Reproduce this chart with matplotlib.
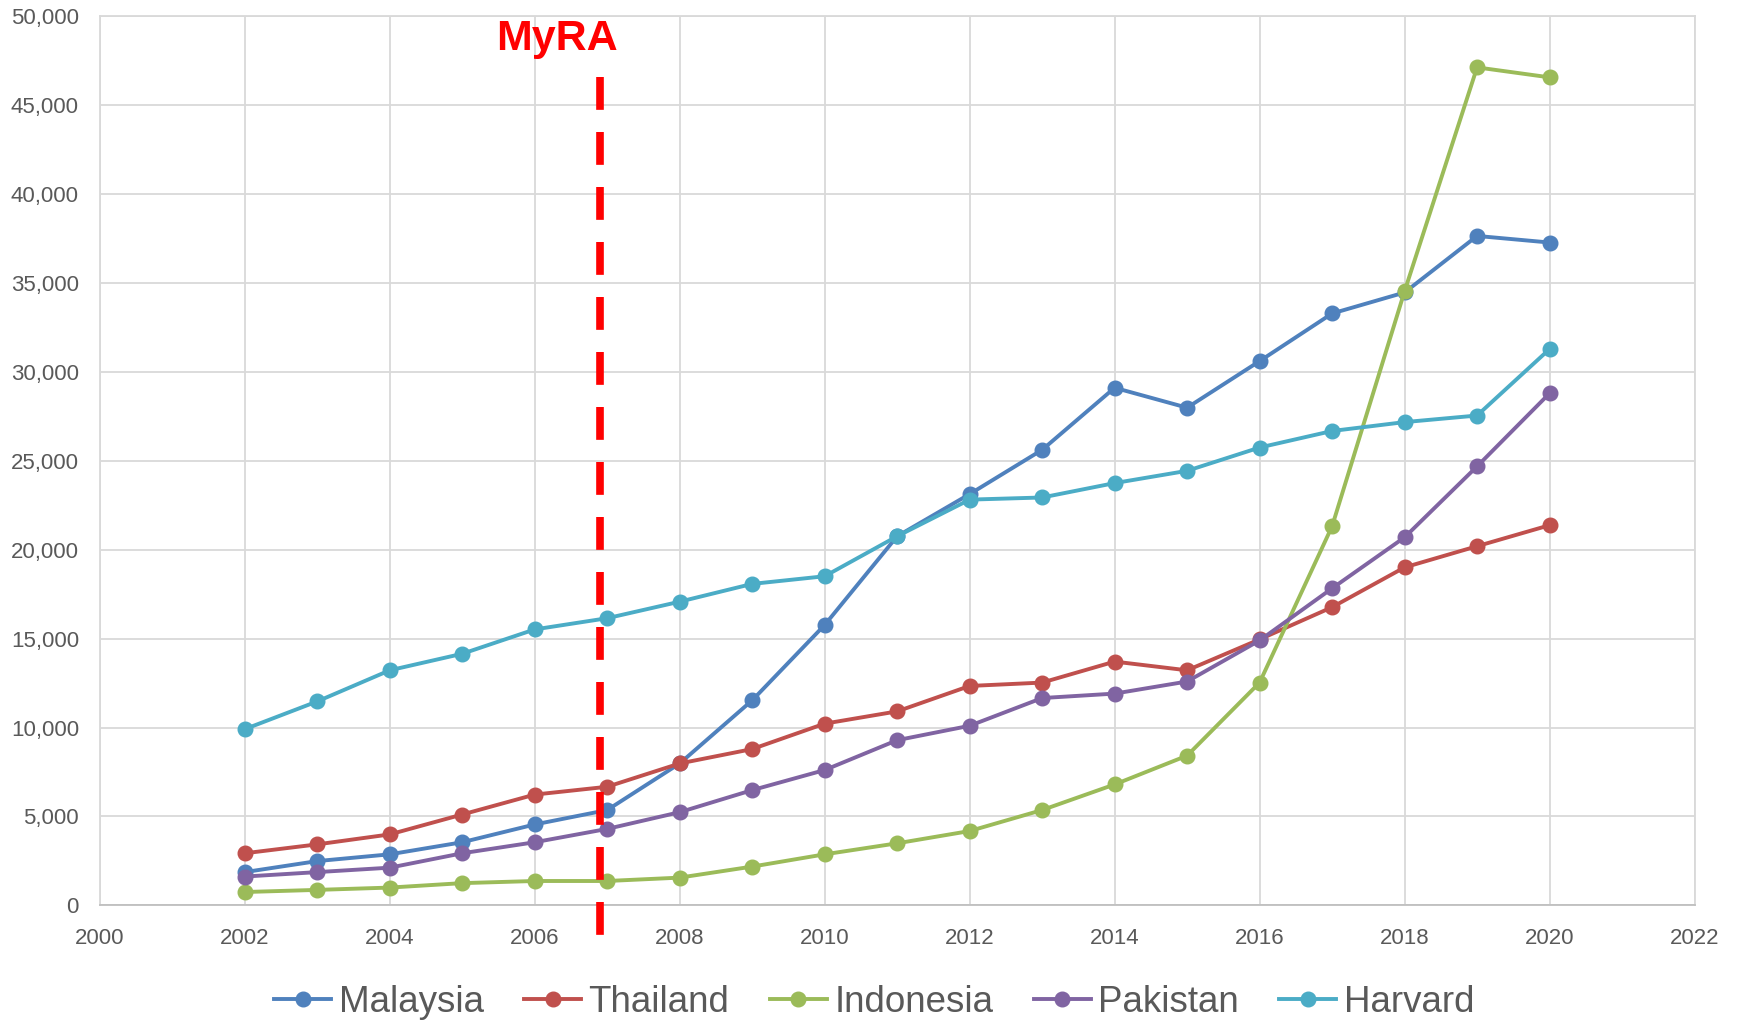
import matplotlib.pyplot as plt
import numpy as np
from matplotlib.ticker import FuncFormatter, MultipleLocator

plt.rcParams["font.family"] = ["Liberation Sans", "DejaVu Sans"]

years = np.arange(2002, 2021)
malaysia = [1870, 2490, 2870, 3550, 4550, 5360, 7980, 11530, 15770, 20760,
            23130, 25620, 29110, 27990, 30610, 33290, 34470, 37650, 37280]
thailand = [2930, 3430, 3990, 5110, 6230, 6670, 7980, 8790, 10220, 10910,
            12340, 12530, 13710, 13220, 14960, 16770, 19010, 20200, 21380]
indonesia = [750, 870, 1000, 1250, 1370, 1370, 1560, 2180, 2870, 3490,
             4180, 5360, 6800, 8420, 12530, 21320, 34540, 47130, 46570]
pakistan = [1620, 1870, 2120, 2930, 3550, 4300, 5240, 6480, 7610, 9290,
            10100, 11660, 11910, 12590, 14900, 17830, 20700, 24690, 28800]
harvard = [9910, 11470, 13220, 14150, 15520, 16150, 17080, 18080, 18510, 20760,
           22820, 22940, 23750, 24440, 25750, 26680, 27180, 27550, 31290]

series = [
    ("Malaysia", malaysia, "#4F81BD"),
    ("Thailand", thailand, "#C0504D"),
    ("Indonesia", indonesia, "#9BBB59"),
    ("Pakistan", pakistan, "#8064A2"),
    ("Harvard", harvard, "#4BACC6"),
]

myra_year = 2006.9

fig = plt.figure(figsize=(17.38, 10.23), dpi=100)
ax = fig.add_axes([0.0574, 0.115, 0.9176, 0.869])

for name, vals, col in series:
    ax.plot(years, vals, "-o", color=col, lw=2.8, ms=10.5, label=name,
            markeredgecolor=col)

ax.plot([myra_year, myra_year], [46600, -1750], color="#FF0000", lw=5.5,
        dashes=(4.3, 2.9), clip_on=False, zorder=10)
ax.text(2006.3, 48700, "MyRA", color="#FF0000", fontsize=31,
        fontweight="bold", ha="center", va="center")

ax.set_xlim(2000, 2022)
ax.set_ylim(0, 50000)
ax.xaxis.set_major_locator(MultipleLocator(2))
ax.yaxis.set_major_locator(MultipleLocator(5000))
ax.yaxis.set_major_formatter(FuncFormatter(lambda v, p: f"{int(v):,}"))
ax.grid(True, color="#D9D9D9", lw=1.3)
ax.set_axisbelow(True)
for s in ax.spines.values():
    s.set_color("#D9D9D9")
    s.set_linewidth(1.3)
ax.spines["bottom"].set_color("#BFBFBF")
ax.tick_params(length=0, labelsize=16, labelcolor="#595959")
ax.tick_params(axis="y", pad=15)
ax.tick_params(axis="x", pad=16)

fig.legend(loc="center", bbox_to_anchor=(0.503, 0.02), ncol=5, frameon=False,
           fontsize=26.5, handlelength=1.55, handletextpad=0.2,
           columnspacing=1.1, labelcolor="#595959")

fig.savefig("out.png", dpi=100)
